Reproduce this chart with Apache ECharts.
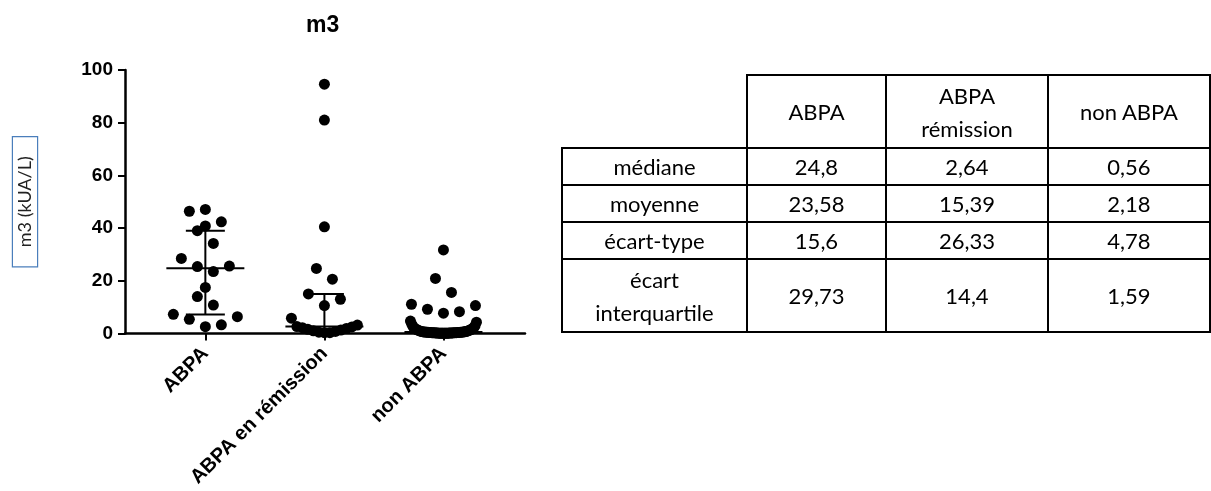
<!DOCTYPE html>
<html><head><meta charset="utf-8">
<script src="https://cdn.jsdelivr.net/npm/echarts@6/dist/echarts.min.js"></script>
<style>
html,body{margin:0;padding:0;background:#fff;}
#chart{position:absolute;left:0;top:0;width:1211px;height:491px;}
#tbl{position:absolute;left:561px;top:74px;border-collapse:collapse;table-layout:fixed;font-family:Lato,'Open Sans',sans-serif;font-size:22px;color:#000;}
#tbl td{border:2px solid #000;text-align:center;vertical-align:middle;padding:0;line-height:33px;}
#tbl td.blank{border-top:none;border-left:none;}
</style></head><body>
<div id="chart"></div>
<table id="tbl"></table>
<script>
// ---- data ----
const categories = ['ABPA', 'ABPA en rémission', 'non ABPA'];
const yTicks = [0, 20, 40, 60, 80, 100];
const abpaValues = [47.1, 46.4, 42.4, 40.8, 39.0, 34.2, 28.5, 25.4, 25.6, 23.5, 17.5, 14.0, 10.8, 7.3, 5.4, 6.4, 2.6, 3.3];
const remissionValues = [94.6, 81.0, 40.5, 24.7, 20.6, 15.0, 13.0, 10.6, 5.8, 3.2, 2.64, 2.5, 2.2, 1.9, 1.6, 1.3, 1.0, 0.8, 0.5, 0.3, 0.3];
const nonAbpaValues = [31.7, 20.9, 15.6, 11.1, 10.6, 9.2, 8.3, 7.7,
  4.7, 4.3, 3.5, 3.0, 2.6, 2.2, 1.9, 1.8, 1.65, 1.52, 1.4, 1.27, 1.15, 1.05, 0.96, 0.88, 0.8, 0.74, 0.68, 0.62, 0.58,
  0.56, 0.54, 0.52, 0.5, 0.47, 0.44, 0.42, 0.4, 0.37, 0.35, 0.33, 0.31, 0.29, 0.27, 0.25,
  0.24, 0.22, 0.2, 0.18, 0.17, 0.15, 0.14, 0.12, 0.11, 0.1, 0.09, 0.08, 0.06, 0.05];
const medians = [24.8, 2.64, 0.56];
const quartile1 = [7.2, 0.6, 0.25];
const quartile3 = [39.0, 15.0, 1.84];

const tableColumns = ['ABPA', 'ABPA\nrémission', 'non ABPA'];
const tableRowLabels = ['médiane', 'moyenne', 'écart-type', 'écart\ninterquartile'];
const tableMedian = ['24,8', '2,64', '0,56'];
const tableMean = ['23,58', '15,39', '2,18'];
const tableSd = ['15,6', '26,33', '4,78'];
const tableIqr = ['29,73', '14,4', '1,59'];

// ---- table ----
(function buildTable(){
  const tbl = document.getElementById('tbl');
  const widths = [185, 139, 162, 162];
  const heights = [73, 37, 37, 37, 73];
  let html = '<colgroup>' + widths.map(w => '<col style="width:' + w + 'px">').join('') + '</colgroup>';
  const esc = s => s.replace(/\n/g, '<br>');
  html += '<tr style="height:' + heights[0] + 'px"><td class="blank"></td>' + tableColumns.map(c => '<td>' + esc(c) + '</td>').join('') + '</tr>';
  const rows = [tableMedian, tableMean, tableSd, tableIqr];
  rows.forEach((r, i) => {
    html += '<tr style="height:' + heights[i + 1] + 'px"><td>' + esc(tableRowLabels[i]) + '</td>' + r.map(v => '<td>' + v + '</td>').join('') + '</tr>';
  });
  tbl.innerHTML = html;
})();

// ---- swarm layout (row slots, GraphPad style) ----
const ROW_H = 5.6;
function swarm(values, g) {
  const sorted = values.slice().sort((a, b) => a - b);
  const rows = []; let cur = null;
  sorted.forEach(v => {
    if (!cur || v > cur.start + ROW_H) { cur = { start: v, items: [] }; rows.push(cur); }
    cur.items.push(v);
  });
  const out = [];
  rows.forEach(r => {
    const n = r.items.length;
    r.items.forEach((v, k) => {
      let slot;
      if (n % 2 === 1) slot = k === 0 ? 0 : (k % 2 === 1 ? 1 : -1) * Math.ceil(k / 2);
      else slot = (k % 2 === 0 ? 1 : -1) * (Math.floor(k / 2) + 0.5);
      out.push([g + 1, v, slot, n]);
    });
  });
  return out;
}
const dotData = [].concat(swarm(abpaValues, 0), swarm(remissionValues, 1), swarm(nonAbpaValues, 2));
const barData = categories.map((c, i) => [i + 1, medians[i], quartile1[i], quartile3[i]]);

const axisFont = { fontFamily: 'Liberation Sans, Arial, sans-serif', fontWeight: 'bold', fontSize: 19, color: '#000' };

const chart = echarts.init(document.getElementById('chart'));
chart.setOption({
  animation: false,
  backgroundColor: '#fff',
  title: {
    text: 'm3', left: 306, top: 14, padding: 0,
    textStyle: { fontFamily: 'Liberation Sans, Arial, sans-serif', fontWeight: 'bold', fontSize: 23, color: '#000' }
  },
  grid: { left: 125, right: 686, top: 70, bottom: 157.5, outerBoundsMode: 'none' },
  xAxis: {
    type: 'value', min: 0.325, max: 3.685,
    splitLine: { show: false },
    axisLine: { show: true, onZero: false, lineStyle: { color: '#000', width: 2.5 } },
    axisTick: { show: true, customValues: [1, 2, 3], length: 7, lineStyle: { color: '#000', width: 2 } },
    axisLabel: Object.assign({ customValues: [1, 2, 3], rotate: 45, margin: 17, padding: [17, 0, 0, 0],
      formatter: v => categories[Math.round(v) - 1] || '' }, axisFont, { fontSize: 20 })
  },
  yAxis: {
    type: 'value', min: yTicks[0], max: yTicks[yTicks.length - 1], interval: 20,
    splitLine: { show: false },
    axisLine: { show: true, lineStyle: { color: '#000', width: 2.5 } },
    axisTick: { show: true, length: 7, lineStyle: { color: '#000', width: 2 } },
    axisLabel: Object.assign({ margin: 12 }, axisFont),
    name: 'm3 (kUA/L)', nameLocation: 'middle', nameRotate: 90, nameGap: 88,
    nameTextStyle: { fontFamily: 'Lato, sans-serif', fontSize: 18, color: '#222',
      borderColor: '#4a7ebb', borderWidth: 1.2, padding: [3, 19, 3, 19], backgroundColor: '#fff' }
  },
  series: [
    {
      type: 'custom', data: dotData, clip: false, encode: { x: 0, y: 1 },
      renderItem: function (params, api) {
        const p = api.coord([api.value(0), api.value(1)]);
        const n = api.value(3);
        const step = n > 1 ? Math.min(16, 66 / (n - 1)) : 0;
        return { type: 'circle', shape: { cx: p[0] + api.value(2) * step, cy: p[1], r: 5.5 }, style: { fill: '#000' } };
      }
    },
    {
      type: 'custom', data: barData, clip: false, encode: { x: 0, y: [1, 2, 3] }, z: 3,
      renderItem: function (params, api) {
        const m = api.coord([api.value(0), api.value(1)]);
        const lo = api.coord([api.value(0), api.value(2)]);
        const hi = api.coord([api.value(0), api.value(3)]);
        const st = { stroke: '#000', lineWidth: 2 };
        return { type: 'group', children: [
          { type: 'line', shape: { x1: m[0] - 39, y1: m[1], x2: m[0] + 39, y2: m[1] }, style: st },
          { type: 'line', shape: { x1: lo[0], y1: lo[1], x2: hi[0], y2: hi[1] }, style: st },
          { type: 'line', shape: { x1: hi[0] - 19.5, y1: hi[1], x2: hi[0] + 19.5, y2: hi[1] }, style: st },
          { type: 'line', shape: { x1: lo[0] - 19.5, y1: lo[1], x2: lo[0] + 19.5, y2: lo[1] }, style: st }
        ] };
      }
    }
  ]
});
</script>
</body></html>
